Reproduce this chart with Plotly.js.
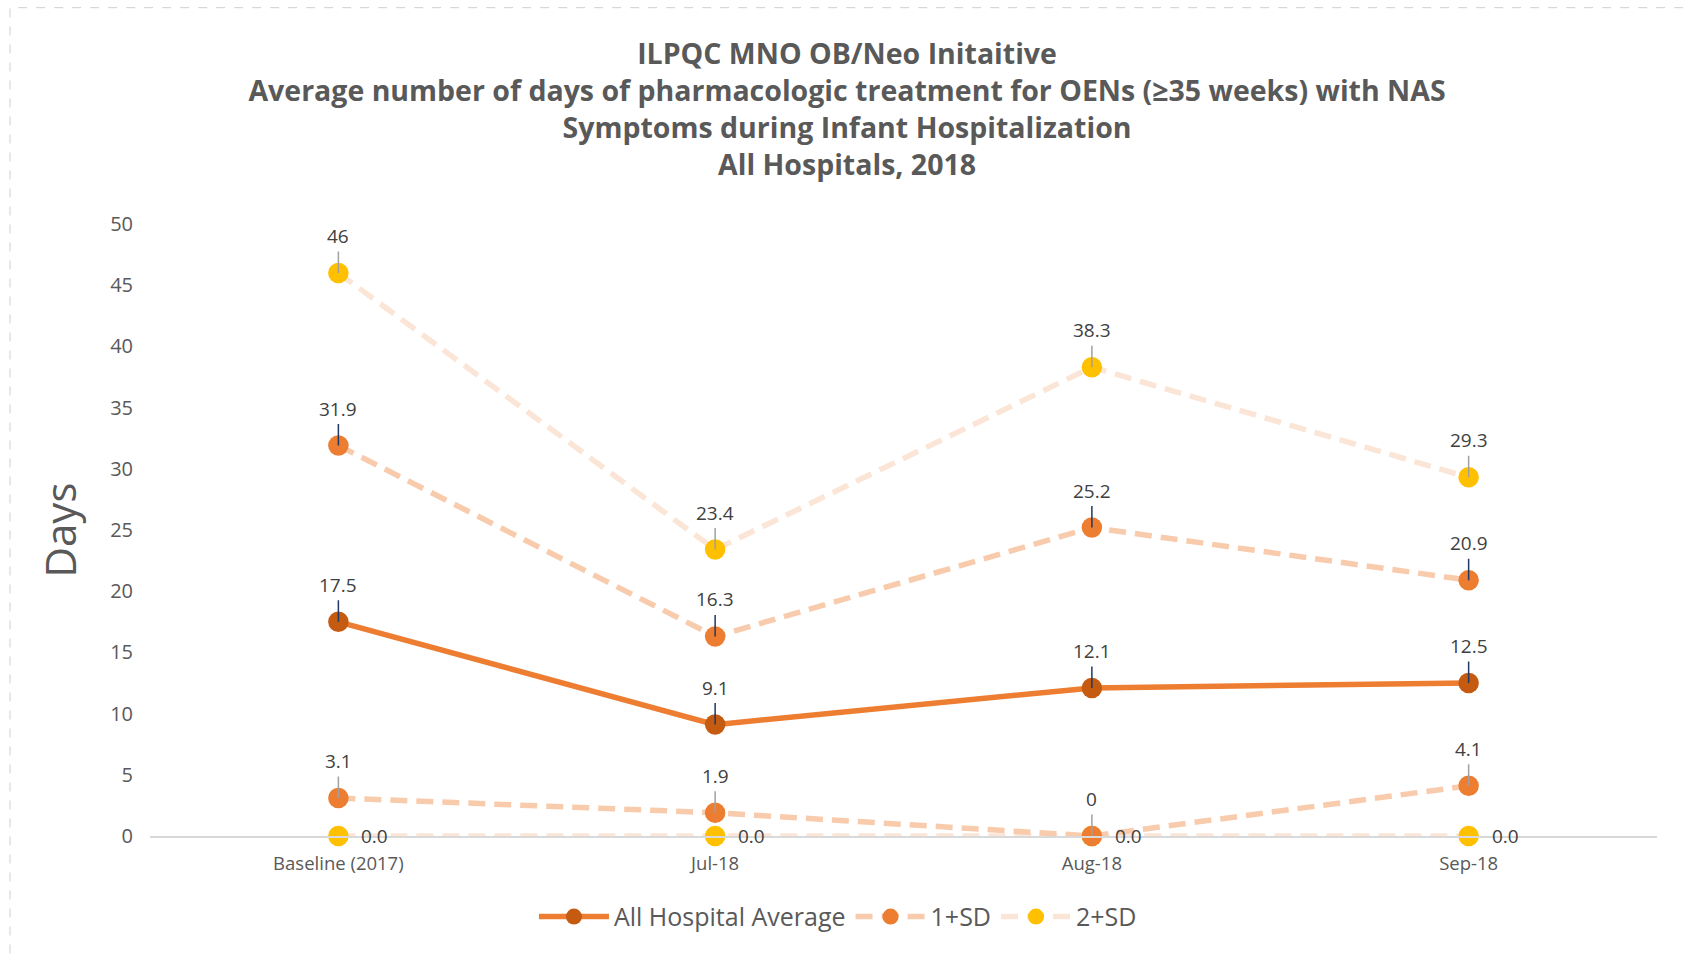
<!DOCTYPE html>
<html>
<head>
<meta charset="utf-8">
<script src="https://cdn.plot.ly/plotly-3.0.1.min.js"></script>
<style>html,body{margin:0;padding:0;background:#fff;}#chart{width:1685px;height:954px;}</style>
</head>
<body>
<div id="chart"></div>
<script>
// ---- Data ----
const categories = ['Baseline (2017)', 'Jul-18', 'Aug-18', 'Sep-18'];
const avgValues = [17.5, 9.1, 12.1, 12.5];
const sd1Upper = [31.9, 16.3, 25.2, 20.9];
const sd1Lower = [3.1, 1.9, 0, 4.1];
const sd2Upper = [46, 23.4, 38.3, 29.3];
const sd2Lower = [0, 0, 0, 0];
const seriesNames = ['All Hospital Average', '1+SD', '2+SD'];
const titleLines = [
  'ILPQC MNO OB/Neo Initaitive',
  'Average number of days of pharmacologic treatment for OENs (≥35 weeks) with NAS',
  'Symptoms during Infant Hospitalization',
  'All Hospitals, 2018'
];
const yTitle = 'Days';

// ---- Styles ----
const FONT = 'Open Sans, Noto Sans, sans-serif';
const GREY = '#595959';
const LABEL = '#404040';
const avgLine = '#ED7D31', avgMarker = '#C55A11';
const sd1Line = '#F8CBAD', sd1Marker = '#ED7D31';
const sd2Line = '#FBE5D6', sd2Marker = '#FFC000';
const DASH = '17px,9px';

function trace(y, name, lineColor, markerColor, dash, show, rank) {
  return {
    type: 'scatter', mode: 'lines+markers', x: categories, y: y, name: name,
    legendgroup: name, showlegend: show, legendrank: rank,
    line: {color: lineColor, width: 5.5, dash: dash},
    marker: {color: markerColor, size: 20.5},
    cliponaxis: false, hoverinfo: 'x+y+name'
  };
}

const data = [
  trace(sd2Lower, seriesNames[2], sd2Line, sd2Marker, DASH, false, 3),
  trace(sd2Upper, seriesNames[2], sd2Line, sd2Marker, DASH, true, 3),
  trace(sd1Lower, seriesNames[1], sd1Line, sd1Marker, DASH, false, 2),
  trace(sd1Upper, seriesNames[1], sd1Line, sd1Marker, DASH, true, 2),
  trace(avgValues, seriesNames[0], avgLine, avgMarker, 'solid', true, 1)
];

// data labels with leader lines
const annotations = [];
function addLabels(vals, leaderColor) {
  vals.forEach((v, i) => {
    annotations.push({
      x: categories[i], y: v, xref: 'x', yref: 'y', text: String(v),
      showarrow: true, arrowhead: 0, arrowwidth: 1.5, arrowcolor: leaderColor,
      ax: 0, ay: -37, standoff: 0, startstandoff: 1,
      font: {family: FONT, size: 19, color: LABEL}
    });
  });
}
addLabels(sd2Upper, '#A0A0A0');
addLabels(sd1Upper, '#1F3864');
addLabels(sd1Lower, '#A0A0A0');
addLabels(avgValues, '#1F3864');
sd2Lower.forEach((v, i) => {
  annotations.push({
    x: categories[i], y: v, xref: 'x', yref: 'y', text: v.toFixed(1),
    showarrow: false, xanchor: 'left', yanchor: 'middle', xshift: 21,
    font: {family: FONT, size: 19, color: LABEL}
  });
});

const layout = {
  width: 1685, height: 954,
  paper_bgcolor: '#ffffff', plot_bgcolor: '#ffffff',
  margin: {l: 150, r: 28, t: 223.5, b: 118},
  font: {family: FONT, color: GREY},
  title: {
    text: titleLines.map(t => '<b>' + t + '</b>').join('<br>'),
    font: {family: FONT, size: 28.5, color: GREY},
    x: 0.5027, xanchor: 'center', y: 1 - 64 / 954, yanchor: 'top', yref: 'container'
  },
  xaxis: {
    type: 'category', range: [-0.5, 3.5], showgrid: false, zeroline: false,
    showline: true, linecolor: '#D9D9D9', linewidth: 2, ticks: '',
    tickfont: {family: FONT, size: 18.5, color: GREY}, ticklabelstandoff: 10,
    fixedrange: true
  },
  yaxis: {
    range: [0, 50], dtick: 5, showgrid: false, zeroline: false, showline: false,
    ticks: '', tickfont: {family: FONT, size: 20, color: GREY}, ticklabelstandoff: 16,
    title: {text: yTitle, font: {family: FONT, size: 42, color: GREY}, standoff: 20},
    fixedrange: true
  },
  legend: {
    orientation: 'h', x: 0.4565, xanchor: 'center', y: -0.132, yanchor: 'middle',
    font: {family: FONT, size: 25, color: GREY}, traceorder: 'normal',
    itemwidth: 70
  },
  annotations: annotations,
  shapes: [{
    type: 'rect', xref: 'paper', yref: 'paper',
    x0: (10 - 150) / 1507, x1: (1700 - 150) / 1507,
    y0: (836 - 965) / 612.5, y1: (836 - 7) / 612.5,
    line: {color: '#CFCFCF', width: 1, dash: 'dash'}, layer: 'below'
  }],
  showlegend: true
};

Plotly.newPlot('chart', data, layout, {displayModeBar: false});
</script>
</body>
</html>
